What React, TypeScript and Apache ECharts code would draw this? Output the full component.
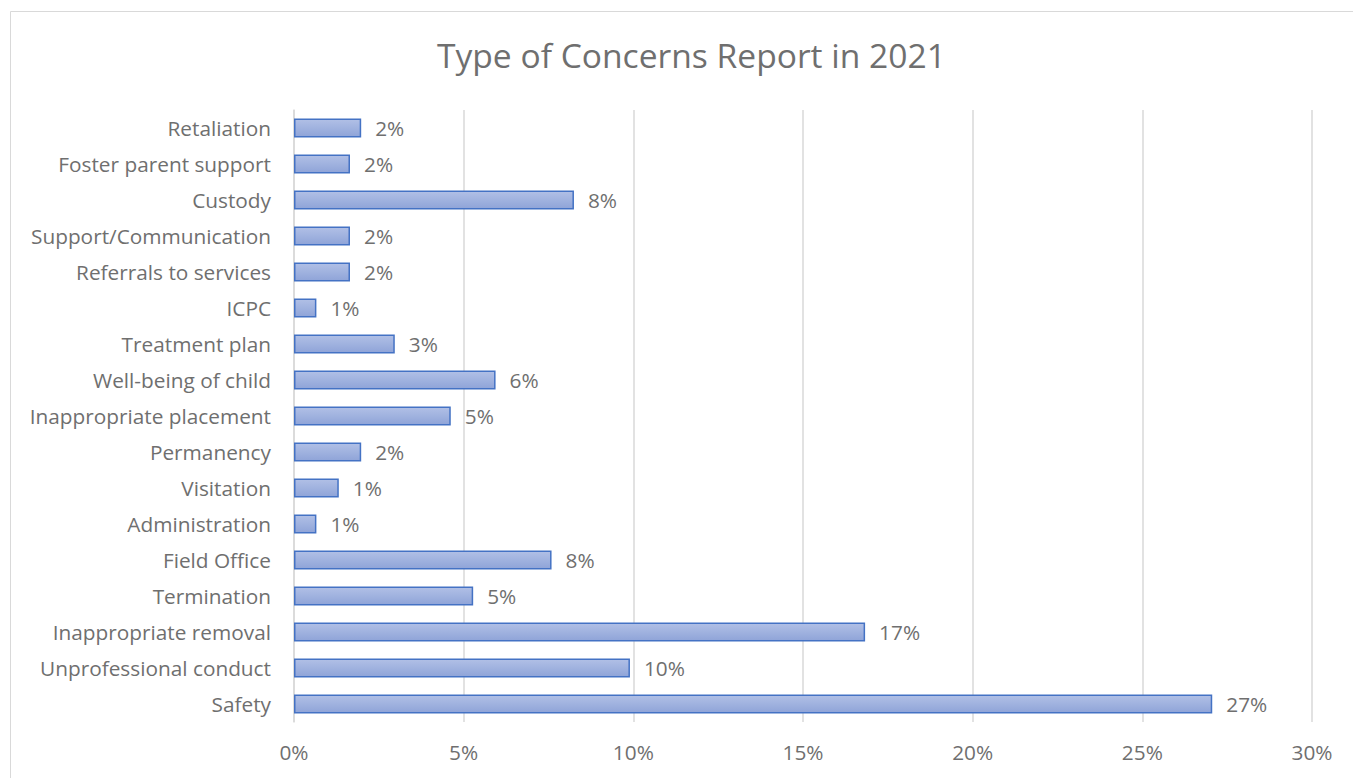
import React, { useEffect, useRef } from "react";
import * as echarts from "echarts";

const categories = [
  "Safety",
  "Unprofessional conduct",
  "Inappropriate removal",
  "Termination",
  "Field Office",
  "Administration",
  "Visitation",
  "Permanency",
  "Inappropriate placement",
  "Well-being of child",
  "Treatment plan",
  "ICPC",
  "Referrals to services",
  "Support/Communication",
  "Custody",
  "Foster parent support",
  "Retaliation",
];

// percentage shares
const values = [
  27.06, 9.9, 16.83, 5.28, 7.59, 0.66, 1.32, 1.98, 4.62, 5.94, 2.97, 0.66, 1.65, 1.65, 8.25, 1.65, 1.98,
];

const xTicks = [0, 5, 10, 15, 20, 25, 30];
const title = "Type of Concerns Report in 2021";

export default function App() {
  const ref = useRef<HTMLDivElement>(null);
  useEffect(() => {
    if (!ref.current) return;
    const chart = echarts.init(ref.current, undefined, { renderer: "svg" });
    const font = "'Open Sans', 'Liberation Sans', sans-serif";
    const grey = "#6f6f6f";
    chart.setOption({
      animation: false,
      backgroundColor: "#ffffff",
      graphic: [
        {
          type: "rect",
          shape: { x: 10.5, y: 11.5, width: 1360, height: 800 },
          style: { fill: "none", stroke: "#d9d9d9", lineWidth: 1 },
          silent: true,
        },
      ],
      title: {
        text: title,
        left: 432,
        top: 33,
        textStyle: { fontFamily: font, fontSize: 33.6, fontWeight: "normal", color: grey },
      },
      grid: { left: 294, right: 41, top: 110, bottom: 56, containLabel: false },
      xAxis: {
        type: "value",
        min: xTicks[0],
        max: xTicks[xTicks.length - 1],
        interval: 5,
        axisLine: { show: false },
        axisTick: { show: false },
        splitLine: { show: true, lineStyle: { color: "#d9d9d9", width: 1.5 } },
        axisLabel: {
          formatter: (v: number) => `${v}%`,
          fontFamily: font,
          fontSize: 20.8,
          color: grey,
          margin: 19,
        },
      },
      yAxis: {
        type: "category",
        data: categories,
        axisLine: { show: true, lineStyle: { color: "#d9d9d9", width: 1.5 } },
        axisTick: { show: false },
        splitLine: { show: false },
        axisLabel: {
          fontFamily: font,
          fontSize: 20.8,
          color: grey,
          margin: 23,
        },
      },
      series: [
        {
          type: "bar",
          data: values,
          barWidth: "53%",
          itemStyle: {
            color: new echarts.graphic.LinearGradient(0, 0, 0, 1, [
              { offset: 0, color: "#b1c0e6" },
              { offset: 1, color: "#8fa4d8" },
            ]),
            borderColor: "#4472c4",
            borderWidth: 1.5,
          },
          label: {
            show: true,
            position: "right",
            distance: 14,
            formatter: (p: any) => `${Math.round(p.value)}%`,
            fontFamily: font,
            fontSize: 20.8,
            color: grey,
          },
        },
      ],
    });
    return () => chart.dispose();
  }, []);
  return (
    <div
      ref={ref}
      style={{ position: "absolute", left: 0, top: 0, width: 1353, height: 778 }}
    />
  );
}
